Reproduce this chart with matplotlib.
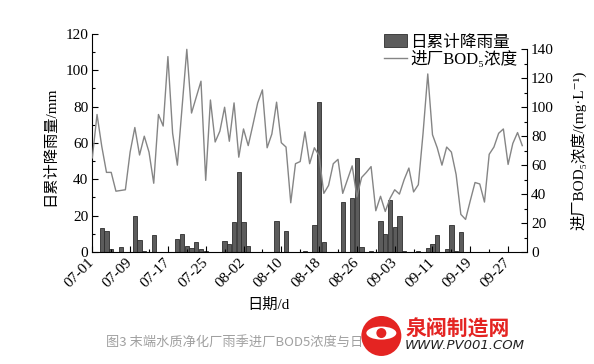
import matplotlib.pyplot as plt
from matplotlib.patches import Patch, Ellipse
from matplotlib.lines import Line2D
from matplotlib.ticker import FixedLocator

plt.rcParams['font.family'] = ['Liberation Serif', 'DejaVu Serif', 'Noto Sans CJK SC']

# === DATA (day 0 = 07-01) === #
rain_days = [2, 3, 4, 6, 9, 10, 11, 13, 18, 19, 20, 21, 22, 23, 24,
             28, 29, 30, 31, 32, 33, 39, 41, 45, 47, 48, 49, 53, 55, 56,
             57, 59, 61, 62, 63, 64, 65, 66, 69, 71, 72, 73, 75, 76, 77, 78]
rain_mm = [13.1, 11.8, 1.5, 3.0, 19.9, 6.6, 0.5, 9.4, 7.4, 9.9, 3.4, 2.3, 5.5, 1.6, 0.8,
           5.9, 4.6, 16.3, 44.1, 16.6, 3.3, 17.2, 11.6, 0.6, 14.9, 82.6, 5.3, 27.3, 29.7, 51.8,
           2.7, 0.6, 17.0, 10.0, 28.8, 14.0, 19.6, 0.7, 0.4, 2.0, 4.4, 9.6, 1.5, 14.7, 0.5, 10.8]

bod_days = [0, 1, 2, 3, 4, 5, 7, 8, 9, 10, 11, 12, 13, 14, 15, 16, 17, 18, 20, 21,
            23, 24, 25, 26, 27, 28, 29, 30, 31, 32, 33, 34, 35, 36, 37, 38, 39, 40, 41, 42,
            43, 44, 45, 46, 47, 48, 49, 50, 51, 52, 53, 54, 55, 56, 57, 58, 59, 60, 61, 62,
            63, 64, 65, 66, 67, 68, 69, 70, 71, 72, 73, 74, 75, 76, 77, 78, 79, 80, 81, 82,
            83, 84, 85, 86, 87, 88, 89, 90, 91]
bod_mgl = [65, 95, 73, 55, 55, 42, 43, 69, 86, 67, 80, 69, 47.5, 95, 87, 135, 82, 60, 140, 96,
           118, 49.5, 105, 76, 83.5, 100, 76.5, 103, 65.5, 85, 73.5, 88, 103, 112, 72, 81.5, 103.5, 75.5, 72.5, 34,
           61, 62.5, 83, 61, 72, 66.5, 40.5, 46, 61, 64, 40.5, 50, 59.5, 38, 51.5, 55, 59, 28.5, 38.5, 28,
           37, 43, 40, 50, 58, 41.5, 46.5, 82, 123, 81, 72, 60, 72.5, 69, 53.5, 26, 22.5, 35.5, 48, 47,
           34.5, 67.5, 72.5, 82, 85, 60.5, 75, 82.5, 73.5]

tick_days = [0, 8, 16, 24, 32, 40, 48, 56, 64, 72, 80, 88]
tick_labels = ['07-01', '07-09', '07-17', '07-25', '08-02', '08-10',
               '08-18', '08-26', '09-03', '09-11', '09-19', '09-27']

# === PLOTTING === #
fig = plt.figure(figsize=(5.94, 3.64), dpi=100)
ax1 = fig.add_axes([0.1554, 0.3077, 0.7318, 0.5989])
ax2 = ax1.twinx()

ax1.bar(rain_days, rain_mm, width=0.9, color='#5c5c5c', edgecolor='#2e2e2e', linewidth=0.6)
ax2.plot(bod_days, bod_mgl, color='#858585', lw=1.0)

ax1.set_xlim(0, 92)
ax1.set_ylim(0, 120)
ax2.set_ylim(0, 150.6)

ax1.spines['top'].set_visible(False)
ax1.spines['right'].set_visible(False)
ax2.spines['top'].set_visible(False)
ax2.spines['left'].set_visible(False)
ax2.spines['bottom'].set_visible(False)
ax2.spines['right'].set_bounds(0, 140)

ax1.set_yticks(range(0, 121, 20))
ax1.yaxis.set_minor_locator(FixedLocator(range(10, 120, 20)))
ax2.set_yticks(range(0, 141, 20))
ax2.yaxis.set_minor_locator(FixedLocator(range(10, 140, 20)))

ax1.set_xticks(tick_days)
ax1.set_xticklabels(tick_labels, rotation=45, ha='right', va='center', rotation_mode='anchor')
ax1.xaxis.set_minor_locator(FixedLocator(range(4, 92, 8)))

for a in (ax1, ax2):
    a.tick_params(which='major', direction='in', length=4, width=0.8, labelsize=11, pad=3)
    a.tick_params(which='minor', direction='in', length=2.5, width=0.8)
ax1.tick_params(axis='x', pad=6)

ax1.set_ylabel('日累计降雨量/mm', fontsize=11)
ax1.yaxis.set_label_coords(-0.081, 0.484)
ax2.set_ylabel('进厂BOD₅浓度/(mg·L⁻¹)', fontsize=11, rotation=90)
ax2.yaxis.set_label_coords(1.099, 0.468)
ax1.set_xlabel('日期/d', fontsize=11)
ax1.xaxis.set_label_coords(0.404, -0.211)

handles = [Patch(facecolor='#5c5c5c', edgecolor='#2e2e2e', linewidth=0.6),
           Line2D([], [], color='#858585', lw=1.0)]
ax2.legend(handles, ['日累计降雨量', '进厂BOD₅浓度'], loc='upper left',
           bbox_to_anchor=(0.67, 0.998), frameon=False, fontsize=12,
           handlelength=1.4, handleheight=0.8, handletextpad=0.2,
           borderpad=0, borderaxespad=0, labelspacing=0.05)

# caption and watermark
fig.text(0.178, 0.06, '图3 末端水质净化厂雨季进厂BOD5浓度与日',
         fontsize=9.5, color='#a0a0a0', family='Noto Sans CJK SC', va='center')
fig.text(0.682, 0.095, '泉阀制造网', fontsize=15, color='#e42422', weight='bold',
         family='Noto Sans CJK SC', va='center',
         bbox=dict(facecolor='white', edgecolor='none', pad=1))
fig.text(0.682, 0.05, 'WWW.PV001.COM', fontsize=9.5, color='#222222', style='italic',
         family='DejaVu Sans', va='center',
         bbox=dict(facecolor='white', edgecolor='none', pad=1))
fig.add_artist(Ellipse((0.642, 0.077), 40 / 594, 40 / 364, transform=fig.transFigure,
                       facecolor='#e42422', edgecolor='none'))
fig.add_artist(Ellipse((0.642, 0.085), 30 / 594, 13 / 364, transform=fig.transFigure,
                       facecolor='white', edgecolor='none'))
fig.add_artist(Ellipse((0.642, 0.085), 10 / 594, 10 / 364, transform=fig.transFigure,
                       facecolor='#e42422', edgecolor='none'))

plt.savefig('out.png', dpi=100)
